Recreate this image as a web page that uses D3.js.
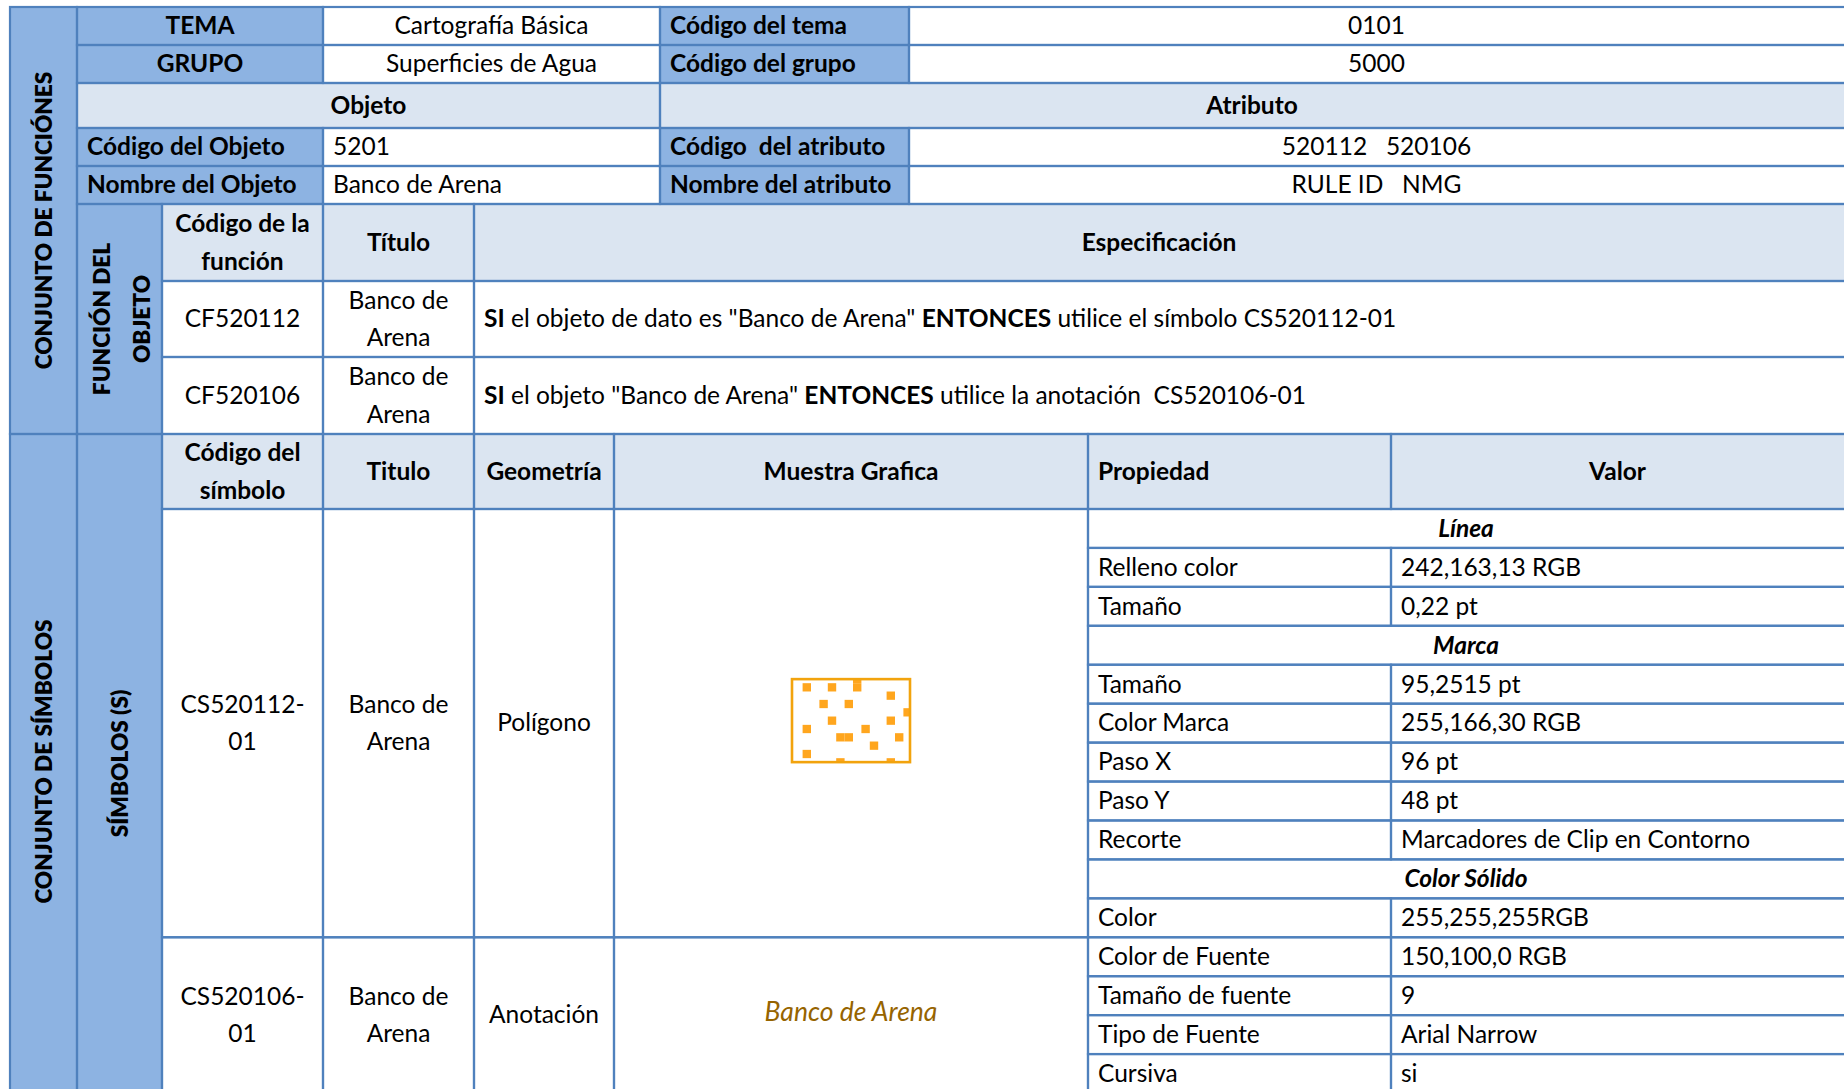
<!DOCTYPE html>
<html><head><meta charset="utf-8">
<script src="https://cdn.jsdelivr.net/npm/d3@7"></script>
<style>
html,body{margin:0;padding:0;background:#fff;}
svg{display:block;}
text{white-space:pre;}
</style></head><body>
<svg id="chart" width="1844" height="1089"></svg>
<script>
// ---------------- data ----------------
const topLabels = ["TEMA", "GRUPO"];
const topValues = ["Cartografía Básica", "Superficies de Agua"];
const topCodeLabels = ["Código del tema", "Código del grupo"];
const topCodeValues = ["0101", "5000"];
const sectionHeaders = ["Objeto", "Atributo"];
const objectLabels = ["Código del Objeto", "Nombre del Objeto"];
const objectValues = ["5201", "Banco de Arena"];
const attributeLabels = ["Código  del atributo", "Nombre del atributo"];
const attributeValues = ["520112   520106", "RULE ID   NMG"];
const sideLabels = [["CONJUNTO DE FUNCIÓNES"], ["CONJUNTO DE SÍMBOLOS"]];
const subSideLabels = [["FUNCIÓN DEL", "OBJETO"], ["SÍMBOLOS (S)"]];
const functionHeaders = [["Código de la", "función"], ["Título"], ["Especificación"]];
const functionCodes = ["CF520112", "CF520106"];
const functionTitles = [["Banco de", "Arena"], ["Banco de", "Arena"]];
const functionSpecs = [
  [{t: "SI", b: true}, {t: " el objeto de dato es \"Banco de Arena\" "}, {t: "ENTONCES", b: true}, {t: " utilice el símbolo CS520112-01"}],
  [{t: "SI", b: true}, {t: " el objeto \"Banco de Arena\" "}, {t: "ENTONCES", b: true}, {t: " utilice la anotación  CS520106-01"}]
];
const symbolHeaders = [["Código del", "símbolo"], ["Titulo"], ["Geometría"], ["Muestra Grafica"], ["Propiedad"], ["Valor"]];
const symbolCodes = [["CS520112-", "01"], ["CS520106-", "01"]];
const symbolTitles = [["Banco de", "Arena"], ["Banco de", "Arena"]];
const symbolGeometries = ["Polígono", "Anotación"];
const annotationSample = "Banco de Arena";
const symbolRowSpans = [11, 4];
const propertyRows = [
  {section: "Línea"},
  {p: "Relleno color", v: "242,163,13 RGB"},
  {p: "Tamaño", v: "0,22 pt"},
  {section: "Marca"},
  {p: "Tamaño", v: "95,2515 pt"},
  {p: "Color Marca", v: "255,166,30 RGB"},
  {p: "Paso X", v: "96 pt"},
  {p: "Paso Y", v: "48 pt"},
  {p: "Recorte", v: "Marcadores de Clip en Contorno"},
  {section: "Color Sólido"},
  {p: "Color", v: "255,255,255RGB"},
  {p: "Color de Fuente", v: "150,100,0 RGB"},
  {p: "Tamaño de fuente", v: "9"},
  {p: "Tipo de Fuente", v: "Arial Narrow"},
  {p: "Cursiva", v: "si"}
];
// marker pattern cells (grid column, grid row) of the polygon sample
const markerCells = [[0,0],[3,0],[6,0],[6,-1],[10,1],[2,2],[5,2],[12,3],[3,4],[10,4],[0,5],[7,5],[4,6],[5,6],[11,6],[8,7],[0,8],[4,9],[10,9]];

// ---------------- layout ----------------
const DARK = "#8DB3E2", LIGHT = "#DBE5F1", WHITE = "#FFFFFF", LINE = "#4F81BD";
const FONT = "Lato, 'Open Sans', sans-serif";
const FS = 24.5;
const ROT_FS = 22.6;
const col = d3.scaleOrdinal()
  .domain(["a","b","c","d","e","f","g","h","i","j","z"])
  .range([10, 77, 162, 323, 474, 614, 660, 909, 1088, 1391, 1846]);
const RIGHT_CENTER_EDGE = 1844;
const topRowY = d3.scaleOrdinal().domain([0,1,2,3,4,5]).range([7, 45, 83, 128, 166, 204]);
const funcRowY = d3.scaleOrdinal().domain([0,1,2,3]).range([204, 281, 357, 434]);
const symHeadY = [434, 509];
const propY = d3.scaleLinear().domain([0, propertyRows.length]).range([509, 1093]);

const cells = [];
const texts = [];
function cx(x0, x1) { return (x0 + Math.min(x1, RIGHT_CENTER_EDGE)) / 2; }
function addCell(c0, c1, y0, y1, fill, t) {
  const x0 = col(c0), x1 = col(c1);
  cells.push({x0, x1, y0, y1, fill});
  if (!t) return;
  const lines = t.lines || [t.text];
  const base = {bold: !!t.bold, italic: !!t.italic, color: t.color || "#000", rich: t.rich, rotate: !!t.rotate, size: t.size || FS};
  if (t.rotate) {
    texts.push(Object.assign({}, base, {lines, x: cx(x0, x1) + (t.dx || 0), y: (y0 + y1) / 2 + (t.dy || 0), anchor: "middle"}));
  } else if (t.align === "left") {
    texts.push(Object.assign({}, base, {lines, x: x0 + 10, y: (y0 + y1) / 2 + (t.dy || 0), anchor: "start"}));
  } else {
    texts.push(Object.assign({}, base, {lines, x: cx(x0, x1), y: (y0 + y1) / 2 + (t.dy || 0), anchor: "middle"}));
  }
}

// top block
topLabels.forEach((lab, i) => {
  const y0 = topRowY(i), y1 = topRowY(i + 1);
  addCell("b", "d", y0, y1, DARK, {text: lab, bold: true});
  addCell("d", "g", y0, y1, WHITE, {text: topValues[i]});
  addCell("g", "h", y0, y1, DARK, {text: topCodeLabels[i], bold: true, align: "left"});
  addCell("h", "z", y0, y1, WHITE, {text: topCodeValues[i]});
});
addCell("b", "g", topRowY(2), topRowY(3), LIGHT, {text: sectionHeaders[0], bold: true});
addCell("g", "z", topRowY(2), topRowY(3), LIGHT, {text: sectionHeaders[1], bold: true});
objectLabels.forEach((lab, i) => {
  const y0 = topRowY(3 + i), y1 = topRowY(4 + i);
  addCell("b", "d", y0, y1, DARK, {text: lab, bold: true, align: "left"});
  addCell("d", "g", y0, y1, WHITE, {text: objectValues[i], align: "left"});
  addCell("g", "h", y0, y1, DARK, {text: attributeLabels[i], bold: true, align: "left"});
  addCell("h", "z", y0, y1, WHITE, {text: attributeValues[i]});
});

// side bands
addCell("a", "b", 7, 434, DARK, {lines: sideLabels[0], bold: true, rotate: true, size: ROT_FS});
addCell("a", "b", 434, 1093, DARK, {lines: sideLabels[1], bold: true, rotate: true, size: ROT_FS, dy: -2});
addCell("b", "c", 204, 434, DARK, {lines: subSideLabels[0], bold: true, rotate: true, size: ROT_FS, dx: 2});
addCell("b", "c", 434, 1093, DARK, {lines: subSideLabels[1], bold: true, rotate: true, size: ROT_FS});

// functions
const fCols = [["c","d"],["d","e"],["e","z"]];
functionHeaders.forEach((h, k) => addCell(fCols[k][0], fCols[k][1], funcRowY(0), funcRowY(1), LIGHT, {lines: h, bold: true}));
functionCodes.forEach((code, i) => {
  const y0 = funcRowY(i + 1), y1 = funcRowY(i + 2);
  addCell("c", "d", y0, y1, WHITE, {text: code});
  addCell("d", "e", y0, y1, WHITE, {lines: functionTitles[i]});
  addCell("e", "z", y0, y1, WHITE, {rich: functionSpecs[i], align: "left", lines: [""]});
});

// symbols header
const sCols = [["c","d"],["d","e"],["e","f"],["f","i"],["i","j"],["j","z"]];
symbolHeaders.forEach((h, k) => addCell(sCols[k][0], sCols[k][1], symHeadY[0], symHeadY[1], LIGHT,
  {lines: h, bold: true, align: k === 4 ? "left" : "center"}));

// symbol rows
let start = 0;
const sampleCells = [];
symbolCodes.forEach((code, s) => {
  const y0 = propY(start), y1 = propY(start + symbolRowSpans[s]);
  addCell("c", "d", y0, y1, WHITE, {lines: code});
  addCell("d", "e", y0, y1, WHITE, {lines: symbolTitles[s]});
  addCell("e", "f", y0, y1, WHITE, {text: symbolGeometries[s]});
  addCell("f", "i", y0, y1, WHITE, null);
  sampleCells.push({x0: col("f"), x1: col("i"), y0, y1});
  start += symbolRowSpans[s];
});

// property rows
propertyRows.forEach((r, i) => {
  const y0 = propY(i), y1 = propY(i + 1);
  if (r.section) {
    addCell("i", "z", y0, y1, WHITE, {text: r.section, bold: true, italic: true});
  } else {
    addCell("i", "j", y0, y1, WHITE, {text: r.p, align: "left"});
    addCell("j", "z", y0, y1, WHITE, {text: r.v, align: "left"});
  }
});

// ---------------- render ----------------
const svg = d3.select("#chart");
svg.append("rect").attr("width", 1844).attr("height", 1089).attr("fill", "#fff");

svg.append("g").selectAll("rect").data(cells).join("rect")
  .attr("x", d => d.x0).attr("y", d => d.y0)
  .attr("width", d => d.x1 - d.x0).attr("height", d => d.y1 - d.y0)
  .attr("fill", d => d.fill);

svg.append("g").selectAll("rect").data(cells).join("rect")
  .attr("x", d => d.x0).attr("y", d => d.y0)
  .attr("width", d => d.x1 - d.x0).attr("height", d => d.y1 - d.y0)
  .attr("fill", "none").attr("stroke", LINE).attr("stroke-width", 2.2);

const LINE_GAP = 37.5;
const tg = svg.append("g").attr("font-family", FONT);
texts.forEach(t => {
  const n = t.lines.length;
  if (t.rotate) {
    const cap = t.size * 0.72;
    t.lines.forEach((ln, k) => {
      const bx = t.x + cap / 2 + (k - (n - 1) / 2) * 40;
      tg.append("text")
        .attr("transform", `translate(${bx},${t.y}) rotate(-90)`)
        .attr("text-anchor", "middle")
        .attr("font-size", t.size).attr("font-weight", 800)
        .attr("fill", t.color).text(ln);
    });
    return;
  }
  t.lines.forEach((ln, k) => {
    const by = t.y + (k - (n - 1) / 2) * LINE_GAP + t.size * 0.34;
    const el = tg.append("text")
      .attr("x", t.x).attr("y", by)
      .attr("text-anchor", t.anchor)
      .attr("font-size", t.size)
      .attr("font-weight", t.bold ? 700 : 400)
      .attr("font-style", t.italic ? "italic" : "normal")
      .attr("fill", t.color);
    if (t.rich) {
      el.selectAll("tspan").data(t.rich).join("tspan")
        .attr("font-weight", d => d.b ? 700 : 400).text(d => d.t);
    } else {
      el.text(ln);
    }
  });
});

// polygon sample: marker pattern in a bordered box
const s1 = sampleCells[0];
const boxW = 118, boxH = 83;
const bx0 = (s1.x0 + s1.x1) / 2 - boxW / 2, by0 = (s1.y0 + s1.y1) / 2 - boxH / 2 - 2.5;
const mx = d3.scaleLinear().domain([0, 12]).range([bx0 + 14.8, bx0 + 115.6]);
const my = d3.scaleLinear().domain([0, 9]).range([by0 + 8.2, by0 + 83.2]);
svg.append("defs").append("clipPath").attr("id", "sampleClip")
  .append("rect").attr("x", bx0).attr("y", by0).attr("width", boxW).attr("height", boxH);
const sg = svg.append("g");
sg.append("g").attr("clip-path", "url(#sampleClip)")
  .selectAll("rect").data(markerCells).join("rect")
  .attr("x", d => mx(d[0]) - 4.2).attr("y", d => my(d[1]) - 4.15)
  .attr("width", 8.4).attr("height", 8.3)
  .attr("fill", "rgb(255,166,30)");
sg.append("rect").attr("x", bx0).attr("y", by0).attr("width", boxW).attr("height", boxH)
  .attr("fill", "none").attr("stroke", "rgb(242,163,13)").attr("stroke-width", 2.6);

// annotation sample
const s2 = sampleCells[1];
svg.append("text")
  .attr("x", (s2.x0 + s2.x1) / 2).attr("y", (s2.y0 + s2.y1) / 2 - 3 + 26 * 0.34)
  .attr("text-anchor", "middle").attr("font-family", FONT)
  .attr("font-size", 26.5).attr("font-style", "italic")
  .attr("fill", "rgb(150,100,0)").text(annotationSample);
</script>
</body></html>
